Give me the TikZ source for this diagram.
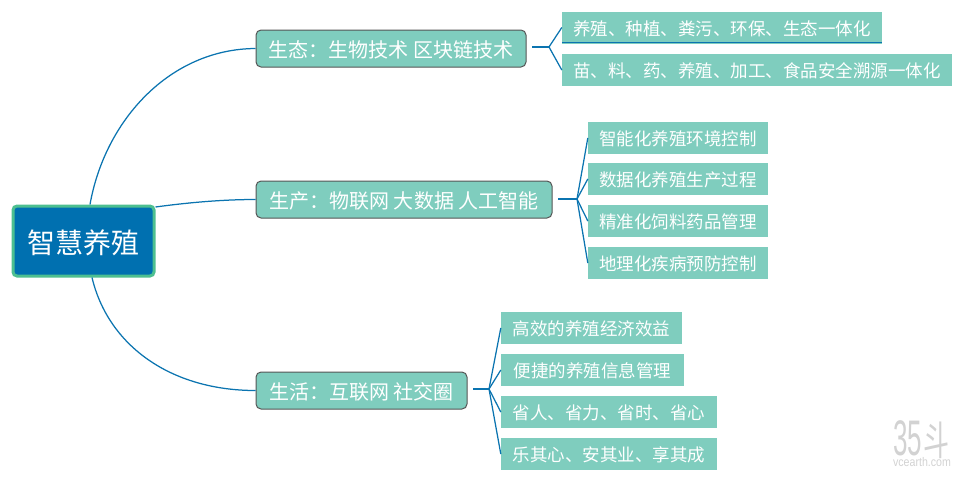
\documentclass[tikz,border=0pt]{standalone}
\usepackage{fontspec}
\setmainfont{Noto Sans CJK SC}
\newfontfamily\wmfont{Liberation Sans}
\newcommand{\fwcolon}{\char"FF1A\relax}
\definecolor{linkblue}{HTML}{0B74B0}
\definecolor{rootblue}{HTML}{0070B0}
\definecolor{rootgreen}{HTML}{4DBF90}
\definecolor{teal}{HTML}{7FCDBE}
\definecolor{edgegray}{HTML}{555555}
\definecolor{wmgray}{HTML}{D2D2D2}
\tikzset{
  rootbox/.style={draw=rootgreen,line width=3pt,fill=rootblue,rounded corners=4pt,text=white,font=\fontsize{28}{30}\selectfont,inner sep=0pt,minimum width=141pt,minimum height=70pt,text height=27pt,text depth=3pt},
  branchbox/.style={draw=edgegray,line width=1pt,fill=teal,rounded corners=5pt,text=white,font=\fontsize{20}{22}\selectfont,inner sep=0pt,minimum height=37pt,text height=19pt,text depth=2pt},
  leafbox/.style={fill=teal,text=white,font=\fontsize{17.5}{20}\selectfont,inner sep=0pt,minimum height=32pt,text height=17pt,text depth=2pt},
  link/.style={draw=linkblue,line width=1.25pt},
  stem/.style={draw=linkblue,line width=1.5pt},
  wmark/.style={text=wmgray,inner sep=0pt,text height=0pt,text depth=0pt},
}
\begin{document}
\begin{tikzpicture}[x=1pt,y=-1pt]
\useasboundingbox (0,0) rectangle (965,480);
\node[rootbox] (root) at (83.5,241) {智慧养殖};
\node[branchbox,minimum width=270pt] (b1) at (391,48.5) {生态\fwcolon 生物技术 区块链技术};
\node[branchbox,minimum width=296pt] (b2) at (404,199.5) {生产\fwcolon 物联网 大数据 人工智能};
\node[branchbox,minimum width=211pt] (b3) at (361.5,390.5) {生活\fwcolon 互联网 社交圈};

\node[leafbox,minimum width=320pt] (a1) at (722,27.5) {养殖、种植、粪污、环保、生态一体化};
\node[leafbox,minimum width=390pt] (a2) at (757,70) {苗、料、药、养殖、加工、食品安全溯源一体化};

\node[leafbox,minimum width=180pt] (c1) at (678,138) {智能化养殖环境控制};
\node[leafbox,minimum width=180pt] (c2) at (678,179) {数据化养殖生产过程};
\node[leafbox,minimum width=180pt] (c3) at (678,221) {精准化饲料药品管理};
\node[leafbox,minimum width=180pt] (c4) at (678,263) {地理化疾病预防控制};

\node[leafbox,minimum width=181pt] (d1) at (591.5,328) {高效的养殖经济效益};
\node[leafbox,minimum width=183pt] (d2) at (592.5,370) {便捷的养殖信息管理};
\node[leafbox,minimum width=216pt] (d3) at (609,412) {省人、省力、省时、省心};
\node[leafbox,minimum width=216pt] (d4) at (609,454) {乐其心、安其业、享其成};

\coordinate (h1a) at (532,47);
\coordinate (h1b) at (549,47);
\coordinate (h2a) at (558,199);
\coordinate (h2b) at (577,199);
\coordinate (h3a) at (473,389);
\coordinate (h3b) at (489,389);

\path[link] ([xshift=6.5pt]root.north) .. controls (105,120) and (170,49) .. (b1.west);
\path[link] ([yshift=-2.5pt]root.north east) .. controls (185,203) and (220,199.5) .. (b2.west);
\path[link] ([xshift=8.5pt]root.south) .. controls (108,345) and (170,390.5) .. (b3.west);

\path[stem] (h1a) -- (h1b);
\path[stem] (h2a) -- (h2b);
\path[stem] (h3a) -- (h3b);
\foreach \n in {a1,a2} \path[link] (h1b) -- (\n.west);
\foreach \n in {c1,c2,c3,c4} \path[link] (h2b) -- (\n.west);
\foreach \n in {d1,d2,d3,d4} \path[link] (h3b) -- (\n.west);
\path[link] ([yshift=1pt]a1.south west) -- ([yshift=1pt]a1.south east);

\node[wmark] (wm) at (922,466) {\makebox[0pt]{\raisebox{11pt}{\hspace{-1pt}{\wmfont\fontsize{50}{50}\selectfont\scalebox{0.52}[1]{35}}\hspace{2pt}{\fontsize{40}{40}\selectfont\scalebox{0.65}[1]{斗}}}}\makebox[0pt]{\wmfont\fontsize{12.5}{13}\selectfont\scalebox{0.85}[1]{vcearth.com}}};
\end{tikzpicture}
\end{document}
